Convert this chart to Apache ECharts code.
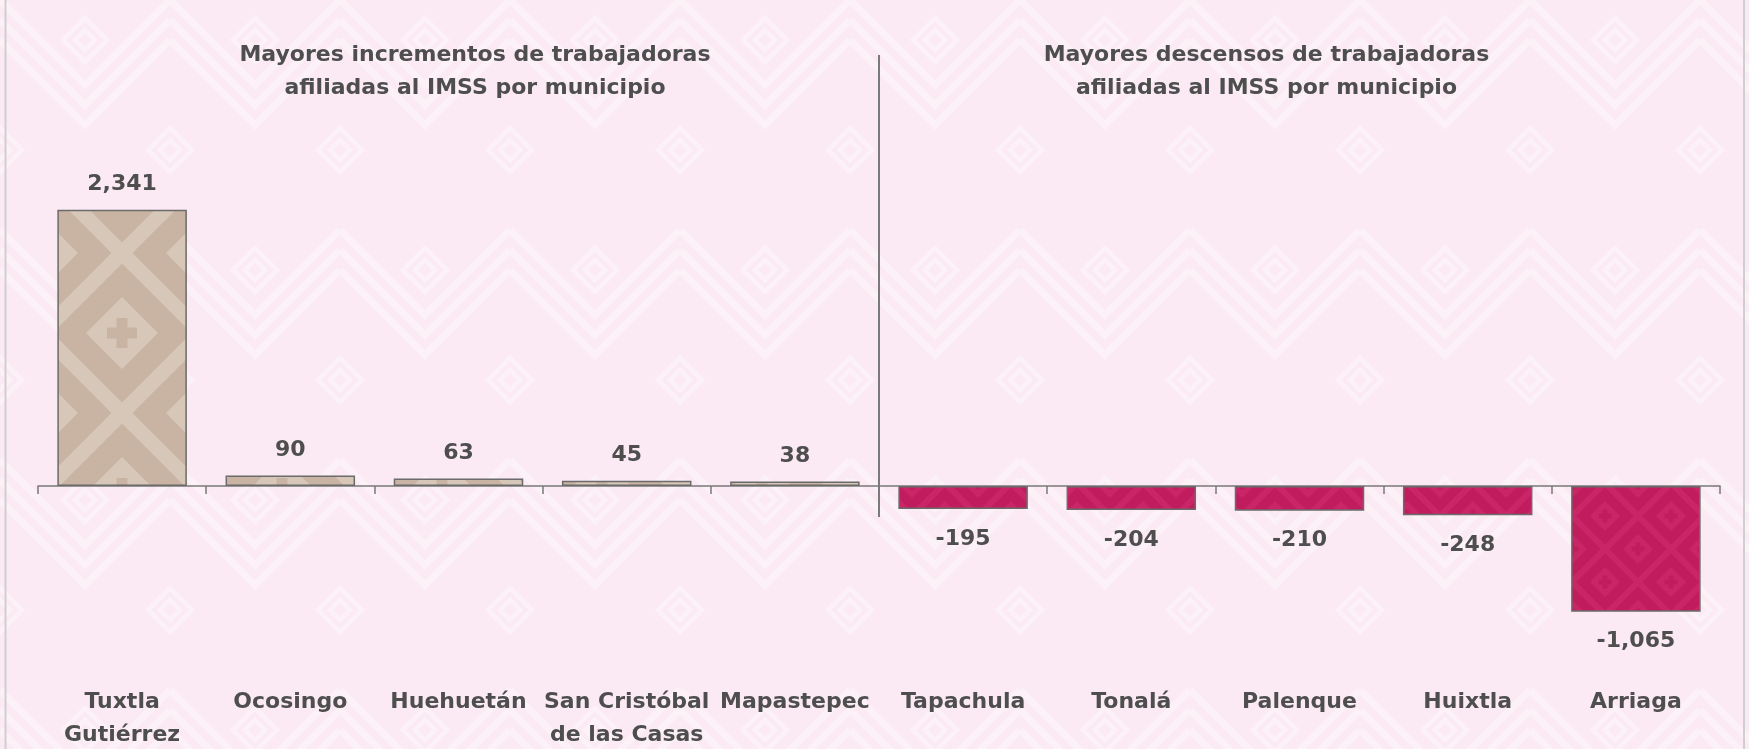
<!DOCTYPE html>
<html><head><meta charset="utf-8">
<script src="https://cdn.jsdelivr.net/npm/echarts@6/dist/echarts.min.js"></script>
<style>html,body{margin:0;padding:0;background:#fbe9f3}#c{width:1749px;height:749px}</style>
</head><body><div id="c"></div>
<script>
// ---- data ----
const categories = ['Tuxtla\nGutiérrez', 'Ocosingo', 'Huehuetán', 'San Cristóbal\nde las Casas', 'Mapastepec',
                    'Tapachula', 'Tonalá', 'Palenque', 'Huixtla', 'Arriaga'];
const values = [2341, 90, 63, 45, 38, -195, -204, -210, -248, -1065];
const titleIncrease = 'Mayores incrementos de trabajadoras\nafiliadas al IMSS por municipio';
const titleDecrease = 'Mayores descensos de trabajadoras\nafiliadas al IMSS por municipio';

const FONT = '"DejaVu Sans", sans-serif';
const TXT = '#4e4e4e';

// ---- pattern tiles: diamond lattice with light stripes ----
function diamondTile(P, ox, oy, bg, light, stripe, innerR, crossLen, crossW, dark) {
  const c = document.createElement('canvas');
  c.width = P; c.height = P;
  const g = c.getContext('2d');
  g.fillStyle = bg; g.fillRect(0, 0, P, P);
  const sx = ((ox % P) + P) % P, sy = ((oy % P) + P) % P;
  g.save(); g.translate(sx, sy);
  g.strokeStyle = light; g.lineWidth = stripe; g.lineCap = 'butt';
  g.beginPath();
  for (let k = -3; k <= 3; k++) {
    g.moveTo(-2 * P, -2 * P + k * P); g.lineTo(2 * P, 2 * P + k * P);
    g.moveTo(-2 * P, 2 * P + k * P); g.lineTo(2 * P, -2 * P + k * P);
  }
  g.stroke();
  for (let i = -2; i <= 2; i++) for (let j = -2; j <= 2; j++) {
    const cx = i * P + P / 2, cy = j * P;
    for (const [x, y] of [[cx, cy], [cx - P / 2, cy + P / 2]]) {
      g.fillStyle = light;
      g.beginPath();
      g.moveTo(x, y - innerR); g.lineTo(x + innerR, y); g.lineTo(x, y + innerR); g.lineTo(x - innerR, y);
      g.closePath(); g.fill();
      g.fillStyle = dark;
      g.fillRect(x - crossLen / 2, y - crossW / 2, crossLen, crossW);
      g.fillRect(x - crossW / 2, y - crossLen / 2, crossW, crossLen);
    }
  }
  g.restore();
  return c;
}
const beigeTile = diamondTile(160, 42, 333, '#c9b3a3', '#d7c7b9', 15, 36, 30, 11, '#c9b3a3');
const magentaTile = diamondTile(66, 1605, 549, '#c11d5e', '#ca2667', 6, 15, 13, 5, '#c11d5e');

// faint background pattern (chevrons)
(function () {
  const W = 170, H = 230;
  const c = document.createElement('canvas');
  c.width = W; c.height = H;
  const g = c.getContext('2d');
  g.fillStyle = '#fbe9f3'; g.fillRect(0, 0, W, H);
  g.strokeStyle = 'rgba(255,255,255,0.38)'; g.lineWidth = 7; g.lineJoin = 'miter';
  for (const dy of [-H, 0, H]) for (const o of [0, 20, 40]) {
    g.beginPath();
    g.moveTo(0, dy + o); g.lineTo(W / 2, dy + o + H / 2 - 30); g.lineTo(W, dy + o);
    g.stroke();
  }
  g.lineWidth = 5;
  for (const [x, y] of [[W / 2, 40], [0, 150], [W, 150]]) {
    g.beginPath();
    g.moveTo(x, y - 22); g.lineTo(x + 22, y); g.lineTo(x, y + 22); g.lineTo(x - 22, y); g.closePath();
    g.stroke();
    g.beginPath();
    g.moveTo(x, y - 10); g.lineTo(x + 10, y); g.lineTo(x, y + 10); g.lineTo(x - 10, y); g.closePath();
    g.stroke();
  }
  document.body.style.backgroundImage = 'url(' + c.toDataURL() + ')';
})();

const chart = echarts.init(document.getElementById('c'), null, { renderer: 'canvas' });
const fmt = v => v.toLocaleString('en-US');

const barData = values.map(v => ({
  value: v,
  itemStyle: { color: { image: v >= 0 ? beigeTile : magentaTile, repeat: 'repeat' } },
  label: { position: v >= 0 ? 'top' : 'bottom', distance: v >= 0 ? 14 : 19 }
}));

const axisLabelStyle = { color: TXT, fontFamily: FONT, fontWeight: 'bold', fontSize: 22, lineHeight: 33 };

chart.setOption({
  backgroundColor: 'transparent',
  animation: false,
  grid: { left: 38, right: 29, top: 202.8, bottom: 121.4, containLabel: false, outerBoundsMode: 'none' },
  xAxis: [{
    type: 'category',
    data: categories,
    axisLine: { onZero: true, lineStyle: { color: '#7a7a7a', width: 1.5 } },
    axisTick: { show: true, length: 8, lineStyle: { color: '#7a7a7a', width: 1.5 } },
    axisLabel: { show: false },
    splitLine: { show: false }
  }, {
    type: 'category',
    data: categories,
    position: 'bottom',
    axisLine: { show: false, onZero: false },
    axisTick: { show: false },
    axisLabel: Object.assign({ interval: 0, margin: 58 }, axisLabelStyle),
    splitLine: { show: false }
  }],
  yAxis: { type: 'value', min: -1200, max: 2400, show: false, splitLine: { show: false } },
  series: [{
    type: 'bar',
    xAxisIndex: 0,
    data: barData,
    barCategoryGap: '23%',
    itemStyle: { borderColor: '#6b6b6b', borderWidth: 1.5 },
    label: { show: true, formatter: p => fmt(p.value), color: TXT, fontFamily: FONT, fontWeight: 'bold', fontSize: 22 }
  }]
});

const xA = chart.convertToPixel({ xAxisIndex: 0 }, categories[4]);
const xB = chart.convertToPixel({ xAxisIndex: 0 }, categories[5]);
const divX = (xA + xB) / 2;

const titleStyle = { fill: TXT, font: 'bold 22px ' + FONT, textAlign: 'center', textVerticalAlign: 'top', lineHeight: 33 };
chart.setOption({
  graphic: [
    { type: 'line', shape: { x1: divX, y1: 55, x2: divX, y2: 517 }, style: { stroke: '#7a7a7a', lineWidth: 2 }, z: 5 },
    { type: 'line', shape: { x1: 5.5, y1: 0, x2: 5.5, y2: 749 }, style: { stroke: '#cfcfcf', lineWidth: 2 } },
    { type: 'line', shape: { x1: 1744, y1: 0, x2: 1744, y2: 749 }, style: { stroke: '#cfcfcf', lineWidth: 2 } },
    { type: 'text', x: 475, y: 39, style: Object.assign({ text: titleIncrease }, titleStyle) },
    { type: 'text', x: 1266.5, y: 39, style: Object.assign({ text: titleDecrease }, titleStyle) }
  ]
});
</script></body></html>
